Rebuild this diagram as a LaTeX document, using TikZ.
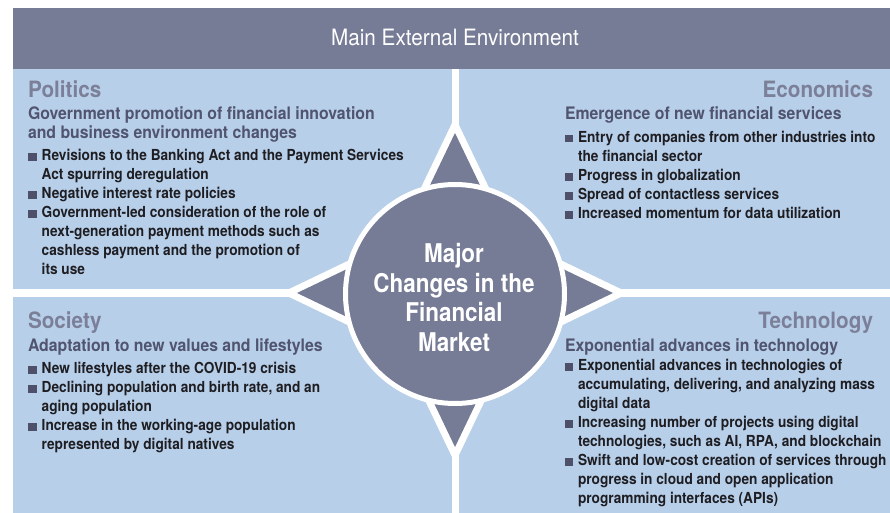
\documentclass[tikz,border=0pt]{standalone}
\usepackage{fontspec}
\setmainfont{TeX Gyre Heros}[FakeStretch=0.92]
\newfontfamily\bulfam{TeX Gyre Heros}[FakeStretch=0.90]
\newfontfamily\ctrfam{TeX Gyre Heros}[FakeStretch=0.87]
\definecolor{slate}{HTML}{767B96}
\definecolor{lblue}{HTML}{B8CFEA}
\definecolor{ttl}{HTML}{7B8098}
\definecolor{head}{HTML}{50546E}
\definecolor{btext}{HTML}{1E1E22}
\definecolor{sqc}{HTML}{4D5068}
\newcommand\ml[1]{\begin{tabular}[t]{@{}l@{}}#1\end{tabular}}
\begin{document}
\begin{tikzpicture}[x=1pt,y=-1pt,
  every node/.style={inner sep=0pt,outer sep=0pt},
  quad/.style={fill=lblue},
  titletxt/.style={font=\fontsize{22.5}{27}\selectfont\bfseries,text=ttl},
  headtxt/.style={font=\fontsize{17.2}{19}\selectfont\bfseries,text=head},
  btxt/.style={font=\bulfam\fontsize{15.2}{19}\selectfont\bfseries,text=btext},
  sq/.style={fill=sqc},
  tri/.style={fill=slate},
  trihalo/.style={fill=white,draw=white,line width=14pt,line join=miter,miter limit=10}]
\newcommand\bul[3]{\node[btxt,anchor=base west] (#1) at #2 {\ml{#3}};
  \fill[sq] ([xshift=-13.4pt]#1.base west) rectangle ++(8.4pt,7.7pt);}
\useasboundingbox (0,0) rectangle (890,513);
\fill[white] (0,0) rectangle (890,513);
% banner
\fill[slate] (13,8.3) rectangle (890,69);
\node[anchor=base,text=white,font=\fontsize{22.5}{27}\selectfont] (banner) at (455,45.7) {Main External Environment};
% quadrants
\fill[quad] (13,69) rectangle (452,289);
\fill[quad] (459,69) rectangle (890,289);
\fill[quad] (13,297) rectangle (452,513);
\fill[quad] (459,297) rectangle (890,513);
% triangles halo
\filldraw[trihalo] (455,133) -- (407,233) -- (503,233) -- cycle;
\filldraw[trihalo] (455,447) -- (410,353) -- (500,353) -- cycle;
\filldraw[trihalo] (297,293) -- (395,246) -- (395,340) -- cycle;
\filldraw[trihalo] (613,293) -- (515,246) -- (515,340) -- cycle;
% triangles
\fill[tri] (455,133) -- (407,233) -- (503,233) -- cycle;
\fill[tri] (455,447) -- (410,353) -- (500,353) -- cycle;
\fill[tri] (297,293) -- (395,246) -- (395,340) -- cycle;
\fill[tri] (613,293) -- (515,246) -- (515,340) -- cycle;
% circle
\filldraw[fill=slate,draw=white,line width=5pt] (455,294) circle[radius=109.5];
\node[align=center,text=white,font=\ctrfam\fontsize{25.8}{29.7}\selectfont\bfseries] (center) at (454,297.5) {Major\\Changes in the\\Financial\\Market};
% Politics
\node[titletxt,anchor=base west] (poltitle) at (28,97.7) {Politics};
\node[headtxt,anchor=base west] (polhead) at (28,119.3) {\ml{Government promotion of financial innovation\\and business environment changes}};
\bul{p1}{(41.7,160.7)}{Revisions to the Banking Act and the Payment Services\\Act spurring deregulation}
\bul{p2}{(41.7,198.7)}{Negative interest rate policies}
\bul{p3}{(41.7,217.7)}{Government-led consideration of the role of\\next-generation payment methods such as\\cashless payment and the promotion of\\its use}
% Economics
\node[titletxt,anchor=base east] (ecotitle) at (873,98) {Economics};
\node[headtxt,anchor=base west] (ecohead) at (565,119.5) {Emergence of new financial services};
\bul{e1}{(578,142.5)}{Entry of companies from other industries into\\the financial sector}
\bul{e2}{(578,180.5)}{Progress in globalization}
\bul{e3}{(578,199.5)}{Spread of contactless services}
\bul{e4}{(578,218.5)}{Increased momentum for data utilization}
% Society
\node[titletxt,anchor=base west] (soctitle) at (28,328) {Society};
\node[headtxt,anchor=base west] (sochead) at (28,351.5) {Adaptation to new values and lifestyles};
\bul{s1}{(41.7,373.5)}{New lifestyles after the COVID-19 crisis}
\bul{s2}{(41.7,392.5)}{Declining population and birth rate, and an\\aging population}
\bul{s3}{(41.7,430.5)}{Increase in the working-age population\\represented by digital natives}
% Technology
\node[titletxt,anchor=base east] (tectitle) at (873,328) {Technology};
\node[headtxt,anchor=base west] (techead) at (565,351.5) {Exponential advances in technology};
\bul{t1}{(578,370.5)}{Exponential advances in technologies of\\accumulating, delivering, and analyzing mass\\digital data}
\bul{t2}{(578,427.5)}{Increasing number of projects using digital\\technologies, such as AI, RPA, and blockchain}
\bul{t3}{(578,465.5)}{Swift and low-cost creation of services through\\progress in cloud and open application\\programming interfaces (APIs)}
\end{tikzpicture}
\end{document}
